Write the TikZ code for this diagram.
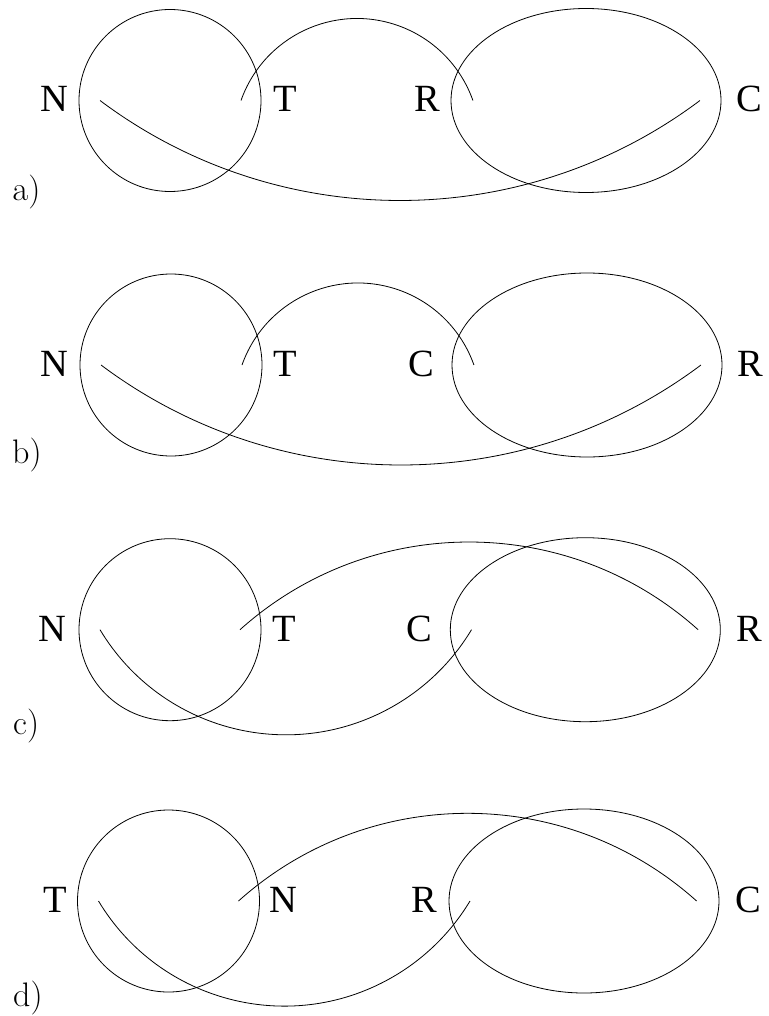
\documentclass[tikz,border=0pt]{standalone}
\usepackage{fontspec}
\newfontfamily\lblfont{Liberation Serif}
\begin{document}
\begin{tikzpicture}[x=1pt,y=-1pt,
  curve/.style={line width=0.8pt, black},
  lbl/.style={font=\lblfont\fontsize{38.5}{38.5}\selectfont, anchor=base, inner sep=0pt},
  tag/.style={font=\fontsize{34}{34}\selectfont, anchor=base west, inner sep=0pt}]
\useasboundingbox (0,0) rectangle (768,1016);
% ---------- panel a ----------
\begin{scope}[shift={(0,100.5)}]
  \draw[curve] (170,0) circle[radius=91];
  \draw[curve] (586,0) ellipse[x radius=135, y radius=92];
  \draw[curve] (241,0) arc[start angle=199.47, end angle=340.53, radius=123];
  \draw[curve] (100,0) arc[start angle=126.87, end angle=53.13, radius=500];
\end{scope}
\node[lbl] (aN) at (54,112) {N};
\node[lbl] (aT) at (285,112) {T};
\node[lbl] (aR) at (427,112) {R};
\node[lbl] (aC) at (749,112) {C};
\node[tag] (atag) at (12.5,200.7) {a)};
% ---------- panel b ----------
\begin{scope}[shift={(1,365)}]
  \draw[curve] (170,0) circle[radius=91];
  \draw[curve] (586,0) ellipse[x radius=135, y radius=92];
  \draw[curve] (241,0) arc[start angle=199.47, end angle=340.53, radius=123];
  \draw[curve] (100,0) arc[start angle=126.87, end angle=53.13, radius=500];
\end{scope}
\node[lbl] (bN) at (54,376.5) {N};
\node[lbl] (bT) at (285.5,376.5) {T};
\node[lbl] (bC) at (421.5,376.5) {C};
\node[lbl] (bR) at (750.5,376.5) {R};
\node[tag] (btag) at (12,463.3) {b)};
% ---------- panel c ----------
\begin{scope}[shift={(0,629.7)}]
  \draw[curve] (170,0) circle[radius=91];
  \draw[curve] (585.3,0) ellipse[x radius=135, y radius=92];
  \draw[curve] (240,0) arc[start angle=228.1, end angle=311.9, radius=343];
  \draw[curve] (100,0) arc[start angle=149, end angle=31, radius=216.7];
\end{scope}
\node[lbl] (cN) at (52.5,641.2) {N};
\node[lbl] (cT) at (284.3,641.2) {T};
\node[lbl] (cC) at (419.7,641.2) {C};
\node[lbl] (cR) at (749,641.2) {R};
\node[tag] (ctag) at (13,734.3) {c)};
% ---------- panel d ----------
\begin{scope}[shift={(-1.5,901)}]
  \draw[curve] (170,0) circle[radius=91];
  \draw[curve] (585.5,0) ellipse[x radius=135, y radius=92];
  \draw[curve] (240,0) arc[start angle=228.1, end angle=311.9, radius=343];
  \draw[curve] (100,0) arc[start angle=149, end angle=31, radius=216.7];
\end{scope}
\node[lbl] (dT) at (55.5,912.5) {T};
\node[lbl] (dN) at (283.3,912.5) {N};
\node[lbl] (dR) at (424,912.5) {R};
\node[lbl] (dC) at (748,912.5) {C};
\node[tag] (dtag) at (13,1006.7) {d)};
\end{tikzpicture}
\end{document}
